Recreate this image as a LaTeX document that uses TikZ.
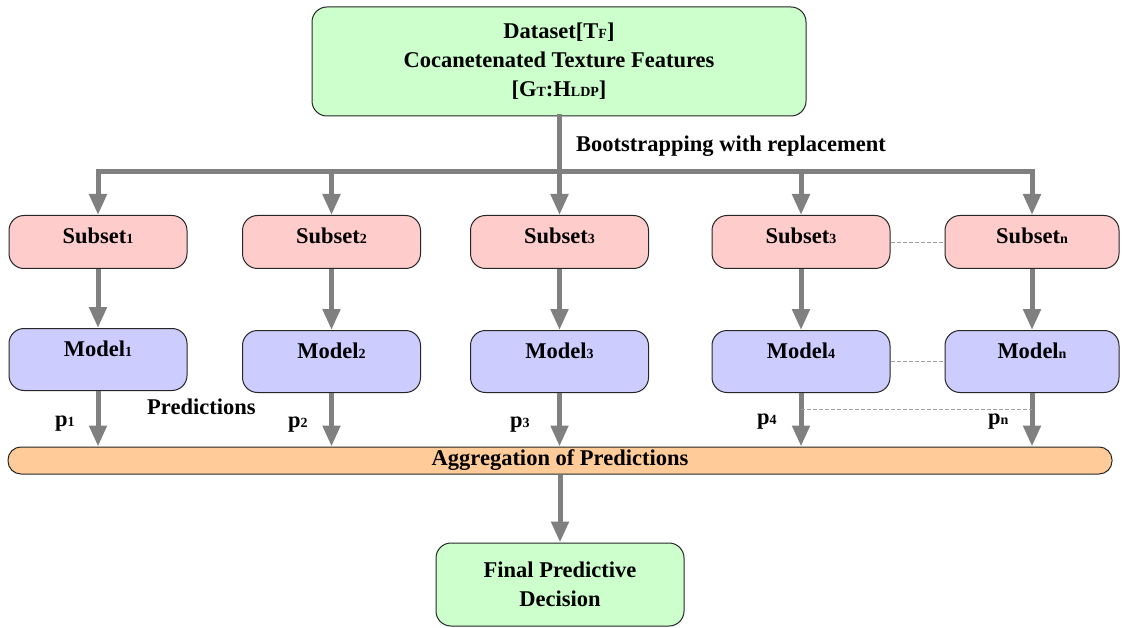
\documentclass[tikz,border=0pt]{standalone}
\usepackage{fontspec}
\setmainfont{Liberation Serif}[BoldFont={Liberation Serif Bold}]
\usetikzlibrary{arrows.meta,calc}
\newcommand{\smtxt}[1]{{\fontsize{14}{14}\selectfont #1}}
\definecolor{boxgreen}{HTML}{CCFFCC}
\definecolor{boxpink}{HTML}{FFCCCC}
\definecolor{boxblue}{HTML}{CCCCFF}
\definecolor{boxorange}{HTML}{FFCC99}
\definecolor{arrowgray}{HTML}{808080}
\definecolor{dashgray}{HTML}{A0A0A0}
\tikzset{
  basebox/.style={draw=black!85, line width=1pt, rounded corners=15pt, inner sep=0pt,
    font=\bfseries\fontsize{22.5}{29}\selectfont, align=center},
  greenbox/.style={basebox, fill=boxgreen},
  subsetbox/.style={basebox, fill=boxpink, minimum width=178pt, text height=28pt, text depth=25pt, anchor=north},
  modelbox/.style={basebox, fill=boxblue, minimum width=178pt, text height=28pt, text depth=34pt, anchor=north},
  aggbox/.style={basebox, fill=boxorange, rounded corners=13pt, minimum width=1104pt, minimum height=27pt},
  flow/.style={draw=arrowgray, line width=5pt, -{Triangle[width=17pt,length=21pt]}},
  trunk/.style={draw=arrowgray, line width=5pt, line cap=rect},
  dashlink/.style={draw=dashgray, line width=0.8pt, dash pattern=on 4pt off 2pt},
  lbl/.style={font=\bfseries\fontsize{22.5}{29}\selectfont, inner sep=0pt, anchor=base west}
}
\begin{document}
\begin{tikzpicture}[x=1pt,y=-1pt]
\useasboundingbox (0,0) rectangle (1124,628);
% top
\node[greenbox, minimum width=494pt, minimum height=109pt] (top) at (559,61.5)
  {Dataset[T\smtxt{F}]\\Cocanetenated Texture Features\\{}[G\smtxt{T}:H\smtxt{LDP}]};
% subsets
\node[subsetbox] (s1) at (98,215) {Subset\smtxt{1}};
\node[subsetbox] (s2) at (331.5,215) {Subset\smtxt{2}};
\node[subsetbox] (s3) at (559.5,215) {Subset\smtxt{3}};
\node[subsetbox] (s4) at (801,215) {Subset\smtxt{3}};
\node[subsetbox, minimum width=174pt] (sn) at (1032,215) {Subset\smtxt{n}};
% models
\node[modelbox] (m1) at (98,328) {Model\smtxt{1}};
\node[modelbox] (m2) at (331.5,330) {Model\smtxt{2}};
\node[modelbox] (m3) at (559.5,330) {Model\smtxt{3}};
\node[modelbox] (m4) at (801,330) {Model\smtxt{4}};
\node[modelbox, minimum width=174pt] (mn) at (1032,330) {Model\smtxt{n}};
% aggregation and final
\node[aggbox] (agg) at (560,460.5) {Aggregation of Predictions};
\node[greenbox, minimum width=248pt, minimum height=83pt] (final) at (560,584.5)
  {Final Predictive\\Decision};
% trunk coordinates
\coordinate (c0) at (top.south |- 0,172);
\coordinate (c1) at (s1.north |- 0,172);
\coordinate (c2) at (s2.north |- 0,172);
\coordinate (c3) at (s3.north |- 0,172);
\coordinate (c4) at (s4.north |- 0,172);
\coordinate (c5) at (sn.north |- 0,172);
\draw[trunk] (top.south) -- (c0);
\draw[trunk] (c1) -- (c5);
\foreach \c/\s in {c1/s1,c2/s2,c3/s3,c4/s4,c5/sn}{
  \draw[flow] (\c) -- (\s.north);
}
\foreach \s/\m in {s1/m1,s2/m2,s3/m3,s4/m4,sn/mn}{
  \draw[flow] (\s.south) -- (\s.south |- \m.north);
}
\foreach \m in {m1,m2,m3,m4,mn}{
  \draw[flow] (\m.south) -- (\m.south |- agg.north);
}
\draw[flow] (agg.south) -- (final.north);
% dashed links
\draw[dashlink] (s4.east) -- (sn.west);
\draw[dashlink] (m4.east) -- (mn.west);
\coordinate (d4) at ($(m4.south)+(0,16)$);
\coordinate (dn) at (mn.south |- d4);
\draw[dashlink] (d4) -- (dn);
% labels
\node[lbl] (boot) at (576,152) {Bootstrapping with replacement};
\node[lbl] (pred) at (147,414) {Predictions};
\node[lbl] (p1) at (55,426) {p\smtxt{1}};
\node[lbl] (p2) at (288,427) {p\smtxt{2}};
\node[lbl] (p3) at (510,427) {p\smtxt{3}};
\node[lbl] (p4) at (757,424) {p\smtxt{4}};
\node[lbl] (pn) at (988,424) {p\smtxt{n}};
\end{tikzpicture}
\end{document}
